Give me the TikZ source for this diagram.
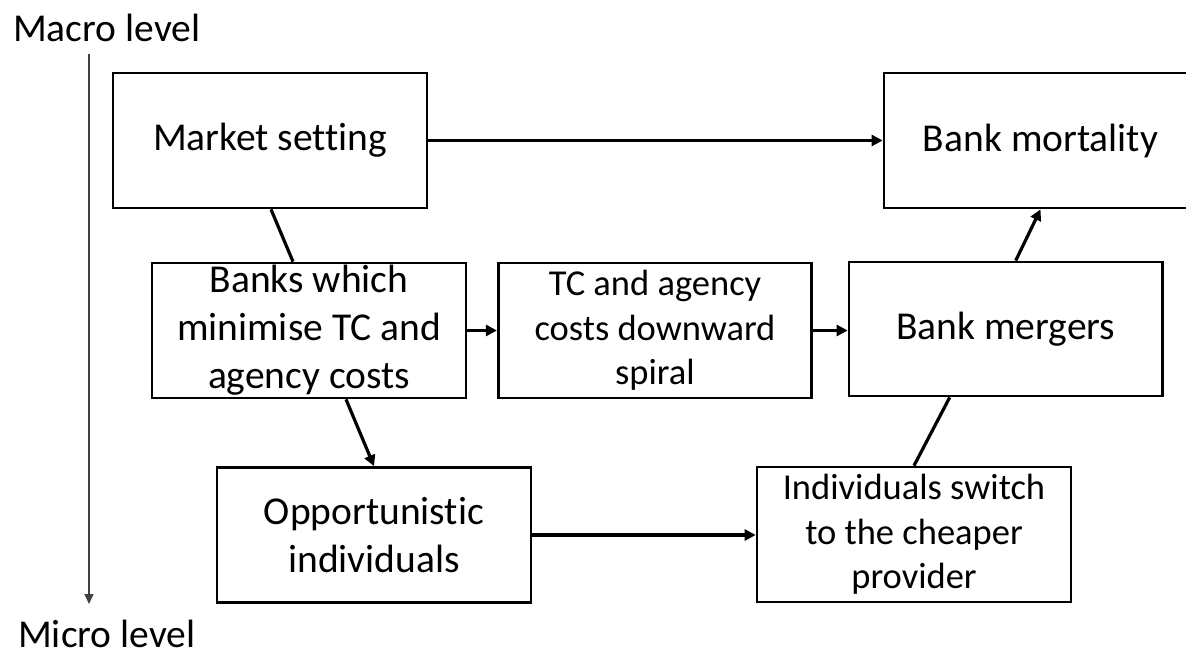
\documentclass[tikz,border=0pt]{standalone}
\usepackage{fontspec}
\setmainfont{Carlito}[Ligatures=NoCommon]
\usetikzlibrary{arrows.meta,calc}
\tikzset{
  box/.style={draw=black, line width=2.7pt, rectangle, inner sep=0pt, align=center,
    minimum width=314pt, minimum height=135pt, font=\fontsize{39.5}{48}\selectfont},
  smallbox/.style={box, font=\fontsize{36.5}{44.5}\selectfont},
  conn/.style={line width=3.2pt},
  arr/.style={conn, -{Triangle[length=11pt,width=11pt]}},
  axis/.style={line width=1.6pt, draw=black!75, -{Triangle[length=10pt,width=9pt]}},
  lvl/.style={anchor=base west, inner sep=0pt, font=\fontsize{39.5}{48}\selectfont}
}
\begin{document}
\begin{tikzpicture}[x=1pt,y=-1pt]
\useasboundingbox (0,0) rectangle (1186,655);
\clip (0,0) rectangle (1186,655);
\node[lvl] (macro) at (13,42) {Macro level};
\node[lvl] (micro) at (18,647) {Micro level};
\coordinate (axtop) at (89,54);
\coordinate (axbot) at (89,604);
\draw[axis] (axtop) -- (axbot);

\node[box] (market) at (270,140.5) {Market setting};
\node[box, minimum width=313pt] (mort) at (1040.5,140.5) {Bank mortality};
\node[box] (banks) at (309,330.5) {Banks which\\minimise TC and\\agency costs};
\node[smallbox, minimum width=313.5pt] (tc) at (655,330.5) {TC and agency\\costs downward\\spiral};
\node[box, minimum width=313.5pt, minimum height=134pt] (mergers) at (1005.7,329) {Bank mergers};
\node[box, font=\fontsize{39.5}{48.5}\selectfont] (opp) at (374,535) {Opportunistic\\individuals};
\node[smallbox] (indiv) at (914,534.5) {Individuals switch\\to the cheaper\\provider};

\draw[arr] (market.east) -- (mort.west);
\draw[conn] ([xshift=1pt]market.south) -- ([xshift=-16pt]banks.north);
\draw[arr] (banks.east) -- (tc.west);
\draw[arr] ([xshift=37pt]banks.south) -- (opp.north);
\draw[arr] (tc.west -| tc.east) -- (mergers.west |- tc.east);
\draw[arr] (opp.east) -- (indiv.west |- opp.east);
\draw[conn] (indiv.north) -- ([xshift=-56pt]mergers.south);
\draw[arr] ([xshift=10pt]mergers.north) -- (mort.south);
\end{tikzpicture}
\end{document}
